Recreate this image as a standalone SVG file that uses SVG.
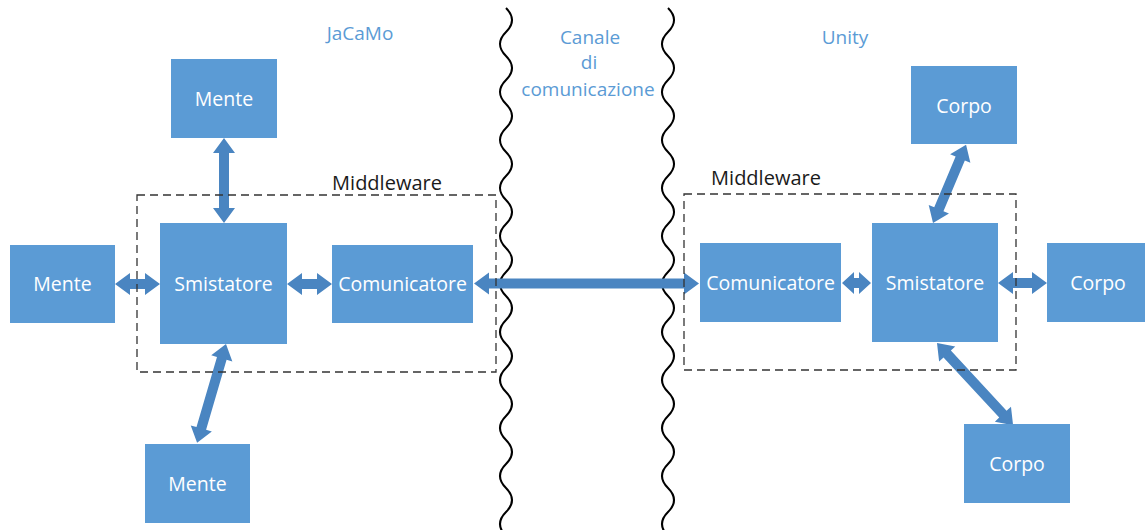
<svg xmlns="http://www.w3.org/2000/svg" width="1145" height="530" viewBox="0 0 1145 530">
<style>
.box{fill:#5b9bd5;}
.bt{fill:#ffffff;font-family:"Open Sans","Liberation Sans",sans-serif;font-size:19.5px;text-anchor:middle;dominant-baseline:central;}
.lbl{fill:#5b9bd5;font-family:"Open Sans","Liberation Sans",sans-serif;font-size:19px;text-anchor:middle;dominant-baseline:central;}
.mw{fill:#1a1a1a;font-family:"Open Sans","Liberation Sans",sans-serif;font-size:20px;text-anchor:middle;dominant-baseline:central;}
.arr{fill:#4a85c1;}
.wave{fill:none;stroke:#000;stroke-width:2;}
.dash{fill:none;stroke:#333;stroke-width:1.3;stroke-dasharray:8 5;}
</style>
<rect width="1145" height="530" fill="#fff"/>
<g id="labels">
<text class="lbl" x="360" y="33">JaCaMo</text>
<text class="lbl" x="845" y="37">Unity</text>
<text class="lbl" x="590" y="37">Canale</text>
<text class="lbl" x="589" y="62">di</text>
<text class="lbl" x="588" y="89">comunicazione</text>
</g>
<g id="channel-lines">
<path class="wave" d="M506,8 c8,8 8,16 0,24 c-8,8 -8,16 0,24 c8,8 8,16 0,24 c-8,8 -8,16 0,24 c8,8 8,16 0,24 c-8,8 -8,16 0,24 c8,8 8,16 0,24 c-8,8 -8,16 0,24 c8,8 8,16 0,24 c-8,8 -8,16 0,24 c8,8 8,16 0,24 c-8,8 -8,16 0,24 c8,8 8,16 0,24 c-8,8 -8,16 0,24 c8,8 8,16 0,24 c-8,8 -8,16 0,24 c8,8 8,16 0,24 c-8,8 -8,16 0,24 c8,8 8,16 0,24 c-8,8 -8,16 0,24 c8,8 8,16 0,24 c-8,8 -8,16 0,24"/>
<path class="wave" d="M668,8 c8,8 8,16 0,24 c-8,8 -8,16 0,24 c8,8 8,16 0,24 c-8,8 -8,16 0,24 c8,8 8,16 0,24 c-8,8 -8,16 0,24 c8,8 8,16 0,24 c-8,8 -8,16 0,24 c8,8 8,16 0,24 c-8,8 -8,16 0,24 c8,8 8,16 0,24 c-8,8 -8,16 0,24 c8,8 8,16 0,24 c-8,8 -8,16 0,24 c8,8 8,16 0,24 c-8,8 -8,16 0,24 c8,8 8,16 0,24 c-8,8 -8,16 0,24 c8,8 8,16 0,24 c-8,8 -8,16 0,24 c8,8 8,16 0,24 c-8,8 -8,16 0,24"/>
</g>
<g id="connectors">
<polygon class="arr" transform="translate(224,138) rotate(90)" points="0,0 15,-11 15,-5 70,-5 70,-11 85,0 70,11 70,5 15,5 15,11"/>
<polygon class="arr" transform="translate(115,284)" points="0,0 15,-11 15,-5 30,-5 30,-11 45,0 30,11 30,5 15,5 15,11"/>
<polygon class="arr" transform="translate(287,284)" points="0,0 15,-11 15,-5 30,-5 30,-11 45,0 30,11 30,5 15,5 15,11"/>
<polygon class="arr" transform="translate(474,283.5)" points="0,0 15,-11 15,-5 210,-5 210,-11 225,0 210,11 210,5 15,5 15,11"/>
<polygon class="arr" transform="translate(226,344) rotate(106.3)" points="0,0 15,-11 15,-5 88,-5 88,-11 103,0 88,11 88,5 15,5 15,11"/>
<polygon class="arr" transform="translate(842,283)" points="0,0 12,-11 12,-5 17,-5 17,-11 29,0 17,11 17,5 12,5 12,11"/>
<polygon class="arr" transform="translate(998,283)" points="0,0 15,-11 15,-5 34,-5 34,-11 49,0 34,11 34,5 15,5 15,11"/>
<polygon class="arr" transform="translate(933,223) rotate(-67.1)" points="0,0 15,-11 15,-5 70,-5 70,-11 85,0 70,11 70,5 15,5 15,11"/>
<polygon class="arr" transform="translate(937,343) rotate(47.2)" points="0,0 15,-11 15,-5 97,-5 97,-11 112,0 97,11 97,5 15,5 15,11"/>
</g>
<g id="middleware-left">
<rect class="dash" x="137" y="195" width="359" height="177"/>
<text class="mw" x="387" y="182">Middleware</text>
</g>
<g id="middleware-right">
<rect class="dash" x="684" y="194" width="332" height="176"/>
<text class="mw" x="766" y="177">Middleware</text>
</g>
<g id="mente-top"><rect class="box" x="171" y="59" width="106" height="79"/><text class="bt" x="224" y="98">Mente</text></g>
<g id="mente-left"><rect class="box" x="10" y="245" width="105" height="78"/><text class="bt" x="62.5" y="283">Mente</text></g>
<g id="mente-bottom"><rect class="box" x="145" y="444" width="105" height="79"/><text class="bt" x="197.5" y="483">Mente</text></g>
<g id="smistatore-left"><rect class="box" x="160" y="223" width="127" height="121"/><text class="bt" x="223.5" y="283">Smistatore</text></g>
<g id="comunicatore-left"><rect class="box" x="332" y="245" width="141" height="78"/><text class="bt" x="402.5" y="283">Comunicatore</text></g>
<g id="comunicatore-right"><rect class="box" x="700" y="243" width="141" height="79"/><text class="bt" x="770.5" y="282">Comunicatore</text></g>
<g id="smistatore-right"><rect class="box" x="872" y="223" width="126" height="119"/><text class="bt" x="935" y="282">Smistatore</text></g>
<g id="corpo-top"><rect class="box" x="911" y="66" width="106" height="78"/><text class="bt" x="964" y="105">Corpo</text></g>
<g id="corpo-right"><rect class="box" x="1047" y="243" width="98" height="79"/><text class="bt" x="1098" y="282">Corpo</text></g>
<g id="corpo-bottom"><rect class="box" x="964" y="424" width="106" height="79"/><text class="bt" x="1017" y="463">Corpo</text></g>
</svg>
